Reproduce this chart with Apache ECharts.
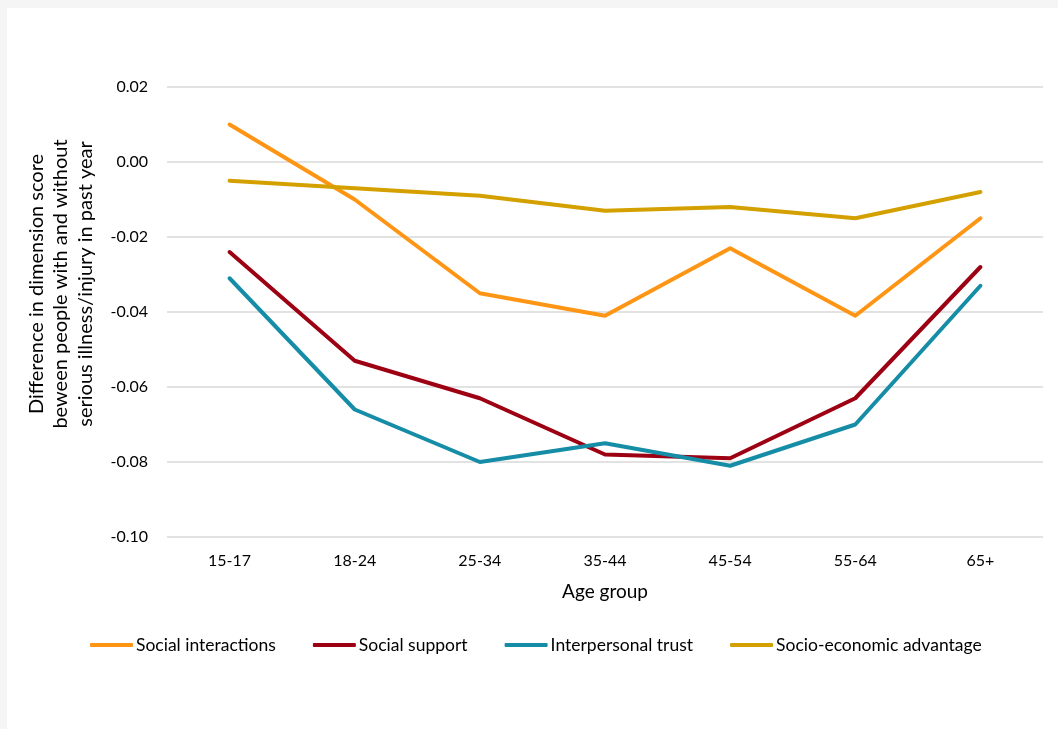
<!DOCTYPE html>
<html><head><meta charset="utf-8">
<script src="https://cdn.jsdelivr.net/npm/echarts@6/dist/echarts.min.js"></script>
<style>
html,body{margin:0;padding:0;background:#f5f5f5;width:1058px;height:729px;overflow:hidden;}
#c{position:absolute;left:7px;top:8px;width:1051px;height:721px;background:#fff;}
</style></head>
<body><div id="c"></div>
<script>
const categories = ['15-17','18-24','25-34','35-44','45-54','55-64','65+'];
const socialInteractions = [0.010, -0.010, -0.035, -0.041, -0.023, -0.041, -0.015];
const socialSupport = [-0.024, -0.053, -0.063, -0.078, -0.079, -0.063, -0.028];
const interpersonalTrust = [-0.031, -0.066, -0.080, -0.075, -0.081, -0.070, -0.033];
const socioEconomic = [-0.005, -0.007, -0.009, -0.013, -0.012, -0.015, -0.008];
const seriesNames = ['Social interactions','Social support','Interpersonal trust','Socio-economic advantage'];
const colors = ['#FF9514','#9C0012','#168DA6','#D4A000'];
const FONT = 'Lato';
const chart = echarts.init(document.getElementById('c'));
function mk(name, data, color){
  return {name, type:'line', data, color, symbol:'none', smooth:false,
    lineStyle:{width:4, color, cap:'round', join:'round'}};
}
chart.setOption({
  animation:false,
  textStyle:{fontFamily:FONT},
  grid:{left:160, right:15, top:79, bottom:192},
  legend:{
    bottom:75, left:83, padding:0, itemGap:37, itemWidth:43, itemHeight:4, icon:'roundRect',
    textStyle:{fontFamily:FONT, fontSize:17.5, color:'#000', padding:[0,0,0,-2]},
    data:seriesNames
  },
  xAxis:{
    type:'category', data:categories, boundaryGap:true,
    axisLine:{show:false}, axisTick:{show:false},
    axisLabel:{fontFamily:FONT, fontSize:16, color:'#000', margin:16},
    name:'Age group', nameLocation:'middle', nameGap:45,
    nameTextStyle:{fontFamily:FONT, fontSize:19, color:'#000'}
  },
  yAxis:{
    type:'value', min:-0.10, max:0.02, interval:0.02,
    axisLine:{show:false}, axisTick:{show:false},
    splitLine:{lineStyle:{color:'#d9d9d9', width:1.5}},
    axisLabel:{fontFamily:FONT, fontSize:16, color:'#000', margin:19,
      formatter: v => v.toFixed(2)}
  },
  graphic:[{
    type:'text', x:54, y:276, rotation:Math.PI/2,
    style:{text:'Difference in dimension score\nbeween people with and without\nserious illness/injury in past year',
      fontFamily:FONT, fontSize:20, lineHeight:24.5, fill:'#000', align:'center', verticalAlign:'middle'}
  }],
  series:[
    mk(seriesNames[0], socialInteractions, colors[0]),
    mk(seriesNames[1], socialSupport, colors[1]),
    mk(seriesNames[2], interpersonalTrust, colors[2]),
    mk(seriesNames[3], socioEconomic, colors[3])
  ]
});
</script></body></html>
